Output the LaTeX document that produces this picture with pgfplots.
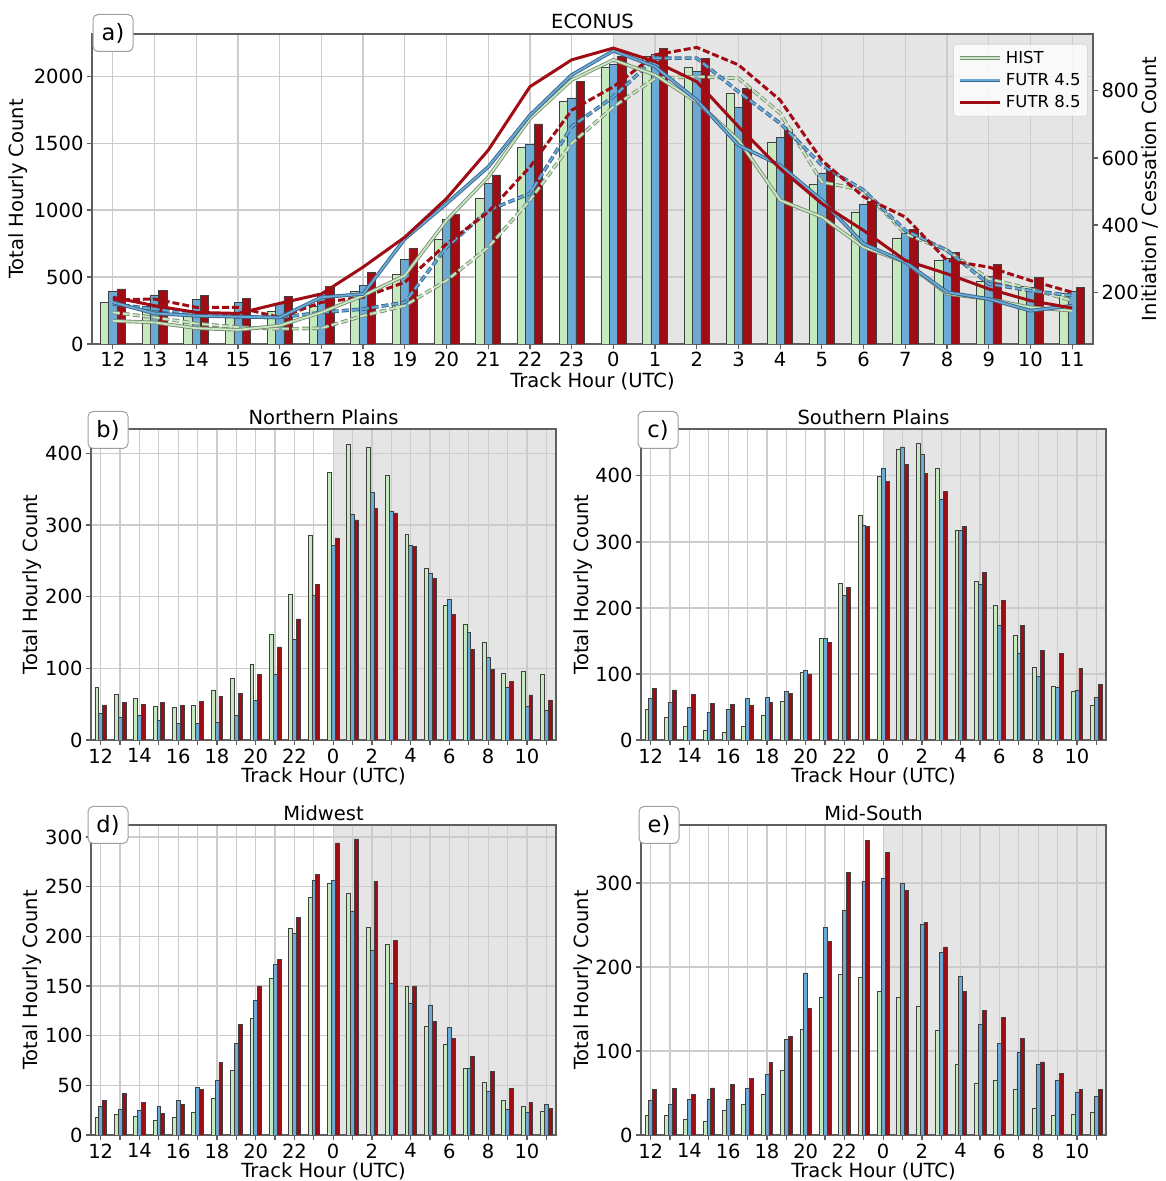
\documentclass[border=0pt]{standalone}
\usepackage{pgfplots}
\pgfplotsset{compat=1.18}
\usepackage{pgfplotstable}
\usepackage{fontspec}
\setmainfont{DejaVu Sans}

\definecolor{cg}{RGB}{199,233,192}
\definecolor{cb}{RGB}{107,170,212}
\definecolor{cr}{RGB}{160,12,20}
\definecolor{cgo}{RGB}{125,140,120}
\definecolor{cbo}{RGB}{55,100,140}
\definecolor{shadec}{RGB}{229,229,229}
\definecolor{gridc}{RGB}{204,204,204}
\definecolor{framec}{RGB}{95,95,95}

\newcommand\lf{\fontsize{19.5}{23}\selectfont}

% ECONUS bars (index 0..23 = hours 12..23,0..11)
\pgfplotstableread{
x hist f45 f85
0 312 397 412
1 285 367 399
2 242 335 360
3 217 310 342
4 242 305 355
5 280 380 430
6 392 437 537
7 517 634 714
8 779 929 966
9 1086 1201 1263
10 1466 1488 1643
11 1810 1838 1958
12 2065 2085 2145
13 2152 2165 2210
14 2065 2033 2132
15 1873 1765 1908
16 1503 1541 1603
17 1191 1278 1298
18 986 1041 1066
19 792 829 854
20 624 642 684
21 467 504 592
22 429 424 497
23 380 392 422
}\econ

% ECONUS initiation (solid) / cessation (dashed) counts
\pgfplotstableread{
x hs bs rs hd bd rd
0 115 170 185 140 165 177
1 110 137 160 125 150 180
2 93 130 140 107 135 155
3 88 127 137 96 127 155
4 101 125 167 91 125 125
5 140 185 195 93 140 170
6 190 195 275 130 150 185
7 250 359 364 160 170 230
8 414 464 479 235 334 344
9 543 573 623 334 444 439
10 717 727 812 474 494 573
11 832 847 892 643 693 742
12 892 919 927 752 782 812
13 847 872 887 837 897 907
14 767 772 827 842 897 929
15 653 638 693 837 797 877
16 474 578 568 733 703 772
17 424 474 464 528 578 593
18 334 344 384 504 504 484
19 290 290 295 374 384 424
20 195 200 255 325 325 295
21 180 180 210 240 225 275
22 155 145 175 210 205 235
23 145 160 153 175 190 200
}\econlines

\pgfplotstableread{
x hist f45 f85
0 73 37 49
1 64 32 53
2 58 35 50
3 47 28 53
4 46 23 48
5 48 23 54
6 70 25 61
7 86 35 65
8 106 55 92
9 148 92 130
10 203 140 169
11 285 202 217
12 373 271 282
13 413 315 307
14 409 346 323
15 370 319 317
16 287 271 270
17 239 233 225
18 188 196 175
19 161 150 126
20 136 115 99
21 93 74 82
22 96 47 63
23 91 41 56
}\np

\pgfplotstableread{
x hist f45 f85
0 47 63 78
1 35 57 76
2 20 50 69
3 14 42 56
4 11 46 54
5 20 63 52
6 38 64 57
7 59 73 70
8 102 105 100
9 154 154 148
10 238 219 231
11 341 325 324
12 400 412 392
13 441 444 417
14 449 432 404
15 412 365 376
16 318 317 324
17 240 236 254
18 204 173 212
19 158 131 173
20 110 96 136
21 82 80 131
22 73 75 109
23 52 65 84
}\sp

\pgfplotstableread{
x hist f45 f85
0 18 29 35
1 21 26 42
2 19 25 33
3 15 29 22
4 18 35 31
5 23 48 46
6 37 55 73
7 65 92 111
8 117 136 150
9 158 172 177
10 208 203 219
11 239 256 262
12 253 256 294
13 243 225 298
14 209 186 255
15 192 153 196
16 150 133 150
17 109 131 114
18 91 108 97
19 67 67 79
20 53 44 64
21 35 26 47
22 29 23 33
23 24 31 27
}\mw

\pgfplotstableread{
x hist f45 f85
0 23 41 54
1 23 36 55
2 19 42 48
3 16 42 56
4 29 42 60
5 36 56 67
6 49 72 86
7 77 114 117
8 126 193 151
9 164 247 230
10 191 268 313
11 188 302 351
12 171 306 336
13 164 300 291
14 153 251 253
15 125 217 224
16 84 189 171
17 62 132 148
18 65 109 140
19 54 99 115
20 32 84 87
21 23 65 73
22 25 51 54
23 27 46 54
}\ms

\pgfplotsset{
  set layers,
  panel/.style={
    scale only axis,
    xmin=-0.5, xmax=23.5, ymin=0,
    axis line style={framec, line width=1.2pt},
    xmajorgrids, ymajorgrids,
    grid style={gridc, line width=1.2pt},
    tick align=outside,
    major tick length=5pt,
    tick style={framec, line width=1.2pt},
    tick pos=left,
    xtick={0,...,23},
    tick label style={font=\lf},
    label style={font=\lf},
    title style={font=\lf},
    /pgf/number format/assume math mode=true,
    /pgf/number format/1000 sep={},
    scaled y ticks=false,
  },
  smallx/.style={
    xticklabels={12,,14,,16,,18,,20,,22,,0,,2,,4,,6,,8,,10,},
    xlabel={Track Hour (UTC)},
    ylabel={Total Hourly Count},
    xlabel style={at={(axis description cs:0.5,-0.117)}, anchor=center},
    title style={at={(axis description cs:0.5,1.02)}, anchor=center},
  },
  gbar/.style={ybar, bar width=0.2, bar shift=0pt, fill=cg, draw=black!75, line width=0.6pt},
  bbar/.style={ybar, bar width=0.2, bar shift=0pt, fill=cb, draw=black!75, line width=0.6pt},
  rbar/.style={ybar, bar width=0.2, bar shift=0pt, fill=cr, draw=black!75, line width=0.6pt},
  hline/.style={draw=cgo, line width=0.9pt, double=cg, double distance=1.8pt, line join=round},
  bline/.style={draw=cbo, line width=0.9pt, double=cb, double distance=1.8pt, line join=round},
  rline/.style={draw=cr, line width=3pt, line join=round},
  dsh/.style={dash pattern=on 7pt off 3pt},
}

\newcommand\threebars[1]{%
  \addplot[gbar] table[x expr=\thisrow{x}-0.2, y=hist]{#1};
  \addplot[bbar] table[x=x, y=f45]{#1};
  \addplot[rbar] table[x expr=\thisrow{x}+0.2, y=f85]{#1};
}

\begin{document}
\begin{tikzpicture}

% ---------------- a) ECONUS ----------------
\begin{axis}[panel, at={(92pt,837pt)}, anchor=south west, width=1001pt, height=310pt,
  ymax=2315, ytick={0,500,1000,1500,2000},
  xticklabels={12,13,14,15,16,17,18,19,20,21,22,23,0,1,2,3,4,5,6,7,8,9,10,11},
  ylabel={Total Hourly Count}, xlabel={Track Hour (UTC)}, title={ECONUS},
  ylabel style={at={(axis description cs:-0.074,0.5)}, anchor=center},
  xlabel style={at={(axis description cs:0.5,-0.121)}, anchor=center},
  title style={at={(axis description cs:0.5,1.02)}, anchor=center},
]
\begin{pgfonlayer}{axis background}
\fill[shadec] (axis cs:12,0) rectangle (axis cs:23.5,2315);
\end{pgfonlayer}
\threebars{\econ}
\end{axis}

\begin{axis}[panel, at={(92pt,837pt)}, anchor=south west, width=1001pt, height=310pt,
  axis x line=none, axis y line*=right, ytick pos=right,
  xmajorgrids=false, ymajorgrids=false,
  ymin=46, ymax=969, ytick={200,400,600,800},
  ylabel={Initiation / Cessation Count},
  ylabel style={at={(axis description cs:1.057,0.5)}, anchor=center},
  legend style={at={(0.995,0.968)}, anchor=north east, fill=white, fill opacity=0.8,
    draw opacity=1, text opacity=1, draw=gray!30, line width=0.8pt, rounded corners=3pt,
    font=\fontsize{16.5}{19}\selectfont, inner xsep=5pt, inner ysep=5pt, row sep=4.5pt,
    /tikz/every odd column/.append style={column sep=2pt}},
  legend cell align=left,
  legend image code/.code={\draw[#1] (0pt,0pt) -- (40pt,0pt);},
]
\addplot[hline, dsh, forget plot] table[x=x, y=hd]{\econlines};
\addplot[bline, dsh, forget plot] table[x=x, y=bd]{\econlines};
\addplot[rline, dsh, forget plot] table[x=x, y=rd]{\econlines};
\addplot[hline] table[x=x, y=hs]{\econlines};
\addlegendentry{HIST}
\addplot[bline] table[x=x, y=bs]{\econlines};
\addlegendentry{FUTR 4.5}
\addplot[rline] table[x=x, y=rs]{\econlines};
\addlegendentry{FUTR 8.5}
\end{axis}

% ---------------- b) Northern Plains ----------------
\begin{axis}[panel, smallx, at={(91pt,441pt)}, anchor=south west, width=465pt, height=311pt,
  ymax=434, ytick={0,100,200,300,400}, title={Northern Plains},
  ylabel style={at={(axis description cs:-0.127,0.5)}, anchor=center},
]
\begin{pgfonlayer}{axis background}
\fill[shadec] (axis cs:12,0) rectangle (axis cs:23.5,434);
\end{pgfonlayer}
\threebars{\np}
\end{axis}

% ---------------- c) Southern Plains ----------------
\begin{axis}[panel, smallx, at={(641pt,441pt)}, anchor=south west, width=465pt, height=311pt,
  ymax=471, ytick={0,100,200,300,400}, title={Southern Plains},
  ylabel style={at={(axis description cs:-0.125,0.5)}, anchor=center},
]
\begin{pgfonlayer}{axis background}
\fill[shadec] (axis cs:12,0) rectangle (axis cs:23.5,471);
\end{pgfonlayer}
\threebars{\sp}
\end{axis}

% ---------------- d) Midwest ----------------
\begin{axis}[panel, smallx, at={(91pt,46pt)}, anchor=south west, width=465pt, height=310pt,
  ymax=312, ytick={0,50,100,150,200,250,300}, title={Midwest},
  ylabel style={at={(axis description cs:-0.127,0.5)}, anchor=center},
]
\begin{pgfonlayer}{axis background}
\fill[shadec] (axis cs:12,0) rectangle (axis cs:23.5,312);
\end{pgfonlayer}
\threebars{\mw}
\end{axis}

% ---------------- e) Mid-South ----------------
\begin{axis}[panel, smallx, at={(641pt,46pt)}, anchor=south west, width=465pt, height=310pt,
  ymax=369, ytick={0,100,200,300}, title={Mid-South},
  ylabel style={at={(axis description cs:-0.125,0.5)}, anchor=center},
]
\begin{pgfonlayer}{axis background}
\fill[shadec] (axis cs:12,0) rectangle (axis cs:23.5,369);
\end{pgfonlayer}
\threebars{\ms}
\end{axis}

% panel letters
\tikzset{plab/.style={draw=gray!75, fill=white, line width=1pt, rounded corners=5pt,
  minimum width=40pt, minimum height=37pt, inner sep=2pt, font=\fontsize{22.5}{26}\selectfont}}
\node[plab] at (113pt,1148pt) {a)};
\node[plab] at (108pt,751pt) {b)};
\node[plab] at (658pt,751pt) {c)};
\node[plab] at (108pt,356pt) {d)};
\node[plab] at (659pt,356pt) {e)};

\pgfresetboundingbox
\useasboundingbox (0pt,0pt) rectangle (1166pt,1181pt);
\end{tikzpicture}
\end{document}
